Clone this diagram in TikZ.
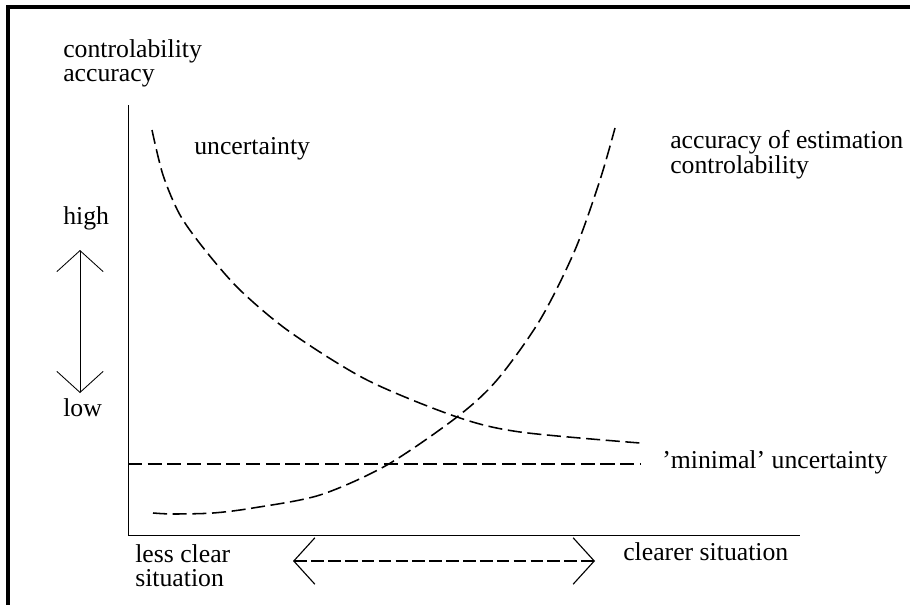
\documentclass[tikz,border=0pt]{standalone}
\usepackage{fontspec}
\setmainfont{Liberation Serif}
\usetikzlibrary{arrows.meta}
\newcommand{\inkcolor}{black}
\newcommand{\curvewidth}{1.1pt}
\newcommand{\axiswidth}{0.7pt}
\tikzset{
  lbl/.style={inner sep=0pt, font=\fontsize{18.3}{17.5}\selectfont, align=left},
  curve/.style={\inkcolor, line width=\curvewidth, dash pattern=on 10pt off 4pt},
}

\begin{document}
\begin{tikzpicture}[x=0.025cm, y=-0.025cm, >={Straight Barb[length=15pt, width=33pt]}]
\useasboundingbox (0,0) rectangle (910,605);
%frame
\draw[line width=2.5pt] (8,605) -- (8,7) -- (910,7);
%axes
\coordinate (o) at (128,535);
\coordinate (ytop) at (128,105);
\coordinate (xend) at (800,535);
\draw[line width=\axiswidth] (ytop) -- (o) -- (xend);
%labels
\node[lbl, anchor=north west] (ylab) at (63,39) {controlability\\accuracy};
\node[lbl, anchor=base west] (unc) at (194,154) {uncertainty};
\node[lbl, anchor=north west] (acc) at (670,130) {accuracy of estimation\\controlability};
\node[lbl, anchor=base west] (high) at (63,224) {high};
\node[lbl, anchor=base west] (low) at (63,416) {low};
\node[lbl, anchor=base west] (minu) at (662,468) {'minimal' uncertainty};
\node[lbl, anchor=north west] (less) at (135,544) {less clear\\situation};
\node[lbl, anchor=base west] (clear) at (623,560) {clearer situation};
%high-low arrow
\coordinate (hi) at (80,250);
\coordinate (lo) at (80,393);
\draw[line width=0.6pt, <->] (hi) -- (lo);
%less-clearer arrow
\coordinate (l) at (293,561);
\coordinate (r) at (595,561);
\draw[line width=0.8pt, dash pattern=on 9pt off 3pt, <->] (l) -- (r);
%uncertainty
\draw[curve] plot[smooth] coordinates {(152,130) (163,175) (180,215) (205,250) (240,290) (290,332) (367,380) (457,417) (520,432) (640,443)};
%accuracy
\draw[curve] plot[smooth] coordinates {(153,513) (173,514) (213,513) (253,508) (320,495) (387,465) (457,417) (497,380) (540,320) (575,250) (600,180) (615,128)};
%minimal
\coordinate (m1) at (128,464);
\coordinate (m2) at (640,464);
\draw[curve] (m1) -- (m2);
\end{tikzpicture}
\end{document}
